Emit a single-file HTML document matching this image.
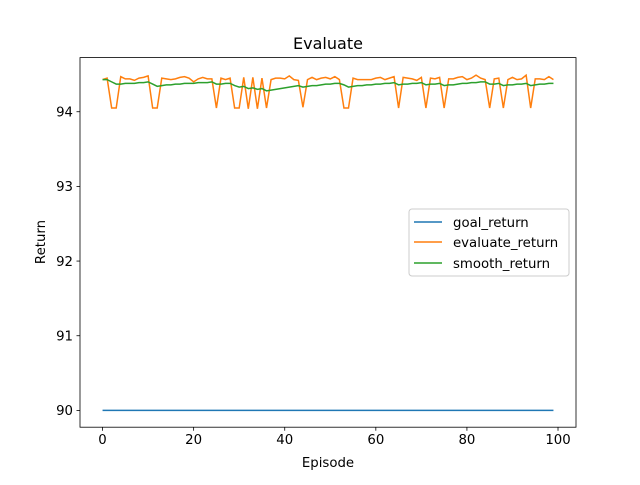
<!DOCTYPE html>
<html><head><meta charset="utf-8"><style>
body{margin:0;background:#fff}
svg text{font-family:"DejaVu Sans","Liberation Sans",sans-serif;fill:#000}
</style></head><body>
<svg id="chart" width="640" height="480" xmlns="http://www.w3.org/2000/svg">
<rect width="640" height="480" fill="#fff"/>
<text x="328" y="49" font-size="16" text-anchor="middle">Evaluate</text>
<g id="plot"></g>
<rect x="80" y="57.6" width="496" height="369.6" fill="none" stroke="#000" stroke-width="0.8"/>
<g id="ticks"></g>
<text x="328" y="467" font-size="13.3" text-anchor="middle">Episode</text>
<text transform="translate(45,242) rotate(-90)" font-size="13.3" text-anchor="middle">Return</text>
<g>
<rect x="409" y="209" width="160" height="67" rx="3" fill="#fff" fill-opacity="0.8" stroke="#ccc" stroke-width="1"/>
<g><line x1="414" y1="222" x2="442" y2="222" stroke="#1f77b4" stroke-width="1.5"/><text x="453" y="227" font-size="13.3">goal_return</text></g>
<g><line x1="414" y1="242" x2="442" y2="242" stroke="#ff7f0e" stroke-width="1.5"/><text x="453" y="247" font-size="13.3">evaluate_return</text></g>
<g><line x1="414" y1="263" x2="442" y2="263" stroke="#2ca02c" stroke-width="1.5"/><text x="453" y="268" font-size="13.3">smooth_return</text></g>
</g>
</svg>
<script>
const goalValues = new Array(100).fill(90);
const evaluateValues = [94.43,94.45,94.05,94.05,94.47,94.44,94.44,94.42,94.45,94.46,94.48,94.05,94.05,94.45,94.44,94.43,94.44,94.46,94.47,94.45,94.40,94.44,94.46,94.44,94.44,94.05,94.45,94.43,94.45,94.05,94.05,94.46,94.04,94.46,94.04,94.45,94.05,94.43,94.45,94.45,94.44,94.48,94.43,94.42,94.06,94.43,94.46,94.43,94.45,94.46,94.44,94.47,94.43,94.05,94.05,94.45,94.43,94.43,94.43,94.43,94.45,94.46,94.43,94.45,94.47,94.05,94.46,94.45,94.44,94.42,94.46,94.05,94.45,94.44,94.46,94.05,94.44,94.44,94.46,94.47,94.43,94.45,94.49,94.45,94.43,94.05,94.44,94.45,94.05,94.43,94.46,94.43,94.44,94.49,94.05,94.44,94.44,94.43,94.47,94.43];
const smoothValues = [94.43,94.43,94.40,94.37,94.37,94.38,94.38,94.38,94.39,94.39,94.40,94.37,94.34,94.35,94.36,94.36,94.37,94.37,94.38,94.38,94.38,94.39,94.39,94.39,94.40,94.37,94.37,94.38,94.38,94.35,94.33,94.34,94.31,94.32,94.30,94.31,94.28,94.29,94.30,94.31,94.32,94.33,94.34,94.35,94.33,94.34,94.35,94.35,94.36,94.37,94.37,94.38,94.38,94.36,94.33,94.34,94.35,94.35,94.36,94.36,94.37,94.37,94.38,94.38,94.39,94.36,94.37,94.37,94.38,94.38,94.39,94.36,94.37,94.37,94.38,94.35,94.36,94.36,94.37,94.38,94.38,94.39,94.39,94.40,94.40,94.37,94.37,94.38,94.35,94.36,94.36,94.37,94.37,94.38,94.35,94.36,94.37,94.37,94.38,94.38];
const xTicks = [0,20,40,60,80,100];
const yTicks = [90,91,92,93,94];

const X0=80,X1=576,Y0=427.2,Y1=57.6;
const xmin=-4.95,xmax=103.95,ymin=89.775,ymax=94.725;
const sx=v=>X0+(v-xmin)/(xmax-xmin)*(X1-X0);
const sy=v=>Y0-(v-ymin)/(ymax-ymin)*(Y0-Y1);
const NS="http://www.w3.org/2000/svg";
const plot=document.getElementById('plot');
const ticks=document.getElementById('ticks');
function line(vals,color,name){
  const p=document.createElementNS(NS,'polyline');
  p.setAttribute('points',vals.map((v,i)=>sx(i).toFixed(2)+','+sy(v).toFixed(2)).join(' '));
  p.setAttribute('fill','none');p.setAttribute('stroke',color);p.setAttribute('stroke-width','1.5');
  
  
  plot.appendChild(p);
}
line(goalValues,'#1f77b4','goal-return-line');
line(evaluateValues,'#ff7f0e','evaluate-return-line');
line(smoothValues,'#2ca02c','smooth-return-line');
xTicks.forEach(t=>{
  const g=document.createElementNS(NS,'g');
  
  
  const x=sx(t);
  g.innerHTML=`<line x1="${x}" y1="${Y0}" x2="${x}" y2="${Y0+3.5}" stroke="#000" stroke-width="0.8"/><text x="${x}" y="${Y0+17}" font-size="13.3" text-anchor="middle">${t}</text>`;
  ticks.appendChild(g);
});
yTicks.forEach(t=>{
  const g=document.createElementNS(NS,'g');
  
  
  const y=sy(t);
  g.innerHTML=`<line x1="${X0}" y1="${y}" x2="${X0-3.5}" y2="${y}" stroke="#000" stroke-width="0.8"/><text x="${X0-7}" y="${y+4.8}" font-size="13.3" text-anchor="end">${t}</text>`;
  ticks.appendChild(g);
});
</script>
</body></html>
